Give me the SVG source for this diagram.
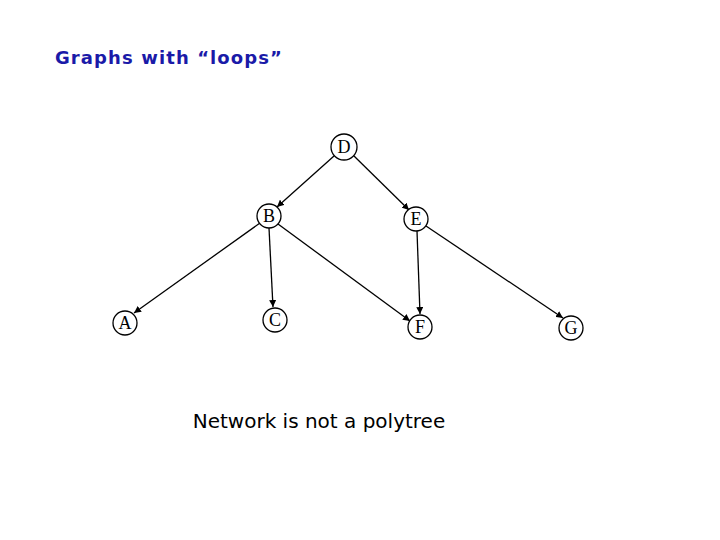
<svg xmlns="http://www.w3.org/2000/svg" width="720" height="540" viewBox="0 0 720 540">
<style>
.n circle{fill:#fff;stroke:#000;stroke-width:1.3}
.n text{font-family:"Liberation Serif",serif;font-size:18px;text-anchor:middle;fill:#000}
.e line{stroke:#000;stroke-width:1.3;marker-end:url(#a)}
</style>
<defs><marker id="a" viewBox="0 0 10 10" refX="10" refY="5" markerWidth="7" markerHeight="7" orient="auto" markerUnits="userSpaceOnUse"><path d="M0,0L10,5L0,10z" fill="#000"/></marker></defs>
<rect width="720" height="540" fill="#fff"/>
<text x="55" y="64" font-family="Verdana,'DejaVu Sans',sans-serif" font-weight="bold" font-size="18" letter-spacing="1.1" fill="#1a1aa8">Graphs with “loops”</text>
<g class="e">
<line x1="334" y1="156" x2="277" y2="207"/>
<line x1="354" y1="156" x2="409" y2="210"/>
<line x1="260" y1="223" x2="134" y2="313"/>
<line x1="269" y1="228" x2="273" y2="307"/>
<line x1="278" y1="224" x2="410" y2="321"/>
<line x1="417" y1="231" x2="420" y2="314"/>
<line x1="426" y1="226" x2="563" y2="318"/>
</g>
<g id="D" class="n"><circle cx="344" cy="147" r="13"/><text x="344" y="153">D</text></g>
<g id="B" class="n"><circle cx="269" cy="216" r="12"/><text x="269" y="222">B</text></g>
<g id="E" class="n"><circle cx="416" cy="219" r="12"/><text x="416" y="225">E</text></g>
<g id="A" class="n"><circle cx="125" cy="323" r="12"/><text x="125" y="329">A</text></g>
<g id="C" class="n"><circle cx="275" cy="320" r="12"/><text x="275" y="326">C</text></g>
<g id="F" class="n"><circle cx="420" cy="327" r="12"/><text x="420" y="333">F</text></g>
<g id="G" class="n"><circle cx="571" cy="328" r="12"/><text x="571" y="334">G</text></g>
<text x="319" y="428" font-family="Verdana,'DejaVu Sans',sans-serif" font-size="20" text-anchor="middle">Network is not a polytree</text>
</svg>
